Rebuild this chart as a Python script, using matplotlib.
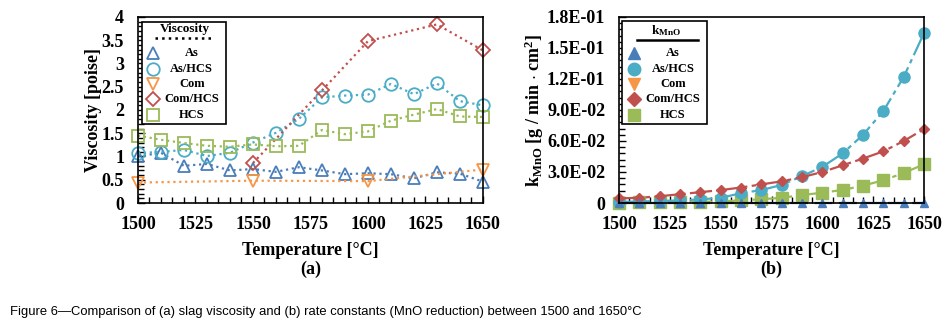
import matplotlib
matplotlib.use("Agg")
import matplotlib.pyplot as plt
from matplotlib.patches import Rectangle
from matplotlib.ticker import MultipleLocator, FuncFormatter

plt.rcParams['font.family'] = ['Liberation Serif', 'DejaVu Serif']
plt.rcParams['font.weight'] = 'bold'
plt.rcParams['mathtext.fontset'] = 'custom'
plt.rcParams['mathtext.rm'] = 'Liberation Serif:bold'
plt.rcParams['mathtext.bf'] = 'Liberation Serif:bold'
plt.rcParams['mathtext.it'] = 'Liberation Serif:bold'

temp = list(range(1500, 1651, 10))
temp_com = [1500, 1550, 1600, 1650]
temp_comhcs = [1550, 1580, 1600, 1630, 1650]
names = ['As', 'As/HCS', 'Com', 'Com/HCS', 'HCS']

# (a) viscosity [poise]
visc_as = [1.0, 1.08, 0.8, 0.84, 0.7, 0.73, 0.67, 0.77, 0.7, 0.62, 0.64, 0.62, 0.53, 0.66, 0.63, 0.46]
visc_ashcs = [1.07, 1.1, 1.14, 1.01, 1.08, 1.3, 1.51, 1.81, 2.27, 2.31, 2.33, 2.56, 2.34, 2.57, 2.19, 2.1]
visc_com = [0.44, 0.48, 0.47, 0.72]
visc_comhcs = [0.86, 2.42, 3.48, 3.84, 3.28]
visc_hcs = [1.45, 1.36, 1.29, 1.23, 1.21, 1.26, 1.22, 1.23, 1.57, 1.48, 1.54, 1.77, 1.9, 2.02, 1.86, 1.85]

# (b) k_MnO [g / min cm2]
k_as = [0.0] * 16
k_ashcs = [0.001, 0.0015, 0.002, 0.0025, 0.0035, 0.005, 0.0095, 0.0125, 0.0175, 0.026,
           0.035, 0.048, 0.066, 0.089, 0.122, 0.1645]
k_comhcs = [0.0045, 0.005, 0.0066, 0.0085, 0.0105, 0.0125, 0.015, 0.018, 0.021, 0.025,
            0.030, 0.0365, 0.043, 0.050, 0.060, 0.0715]
k_hcs = [0.0004, 0.0005, 0.0007, 0.0009, 0.0011, 0.0017, 0.0025, 0.0037, 0.005, 0.0077,
         0.010, 0.0126, 0.0168, 0.022, 0.029, 0.0375]

c_as = '#4a7ebb'
c_ashcs = '#4bacc6'
c_com = '#f79646'
c_comhcs = '#c0504d'
c_hcs = '#9bbb59'
colors = [c_as, c_ashcs, c_com, c_comhcs, c_hcs]
markers = ['^', 'o', 'v', 'D', 's']

fig = plt.figure(figsize=(9.49, 3.34), dpi=100)
ax1 = fig.add_axes([0.1454, 0.3922, 0.3635, 0.557])
ax2 = fig.add_axes([0.6523, 0.3922, 0.3214, 0.557])

# ---- (a)
kw = dict(ls=':', lw=1.6, mfc='none', mew=1.3, ms=9, clip_on=False)
ax1.plot(temp, visc_as, marker='^', color=c_as, **kw)
ax1.plot(temp, visc_ashcs, marker='o', color=c_ashcs, **kw)
ax1.plot(temp_com, visc_com, marker='v', color=c_com, **kw)
ax1.plot(temp_comhcs, visc_comhcs, marker='D', color=c_comhcs, **{**kw, 'ms': 7})
ax1.plot(temp, visc_hcs, marker='s', color=c_hcs, **kw)
ax1.set_xlim(1500, 1650)
ax1.set_ylim(0, 4)
ax1.xaxis.set_major_locator(MultipleLocator(25))
ax1.xaxis.set_minor_locator(MultipleLocator(5))
ax1.yaxis.set_major_locator(MultipleLocator(0.5))
ax1.yaxis.set_minor_locator(MultipleLocator(0.1))
ax1.yaxis.set_major_formatter(FuncFormatter(lambda v, p: '%g' % v))
ax1.set_ylabel('Viscosity [poise]', fontsize=13, fontweight='bold', labelpad=0)
ax1.set_xlabel('Temperature [°C]\n(a)', fontsize=13, fontweight='bold', labelpad=6.5,
               linespacing=1.2)

# ---- (b)
dd = (0, (10, 2, 2, 2))
ax2.plot(temp, k_hcs, ls=dd, lw=1.6, marker='s', ms=8, color=c_hcs, clip_on=False)
ax2.plot(temp, k_ashcs, ls=dd, lw=1.6, marker='o', ms=8, color=c_ashcs, clip_on=False)
ax2.plot(temp, k_comhcs, ls=dd, lw=1.6, marker='D', ms=5.5, color=c_comhcs, clip_on=False)
ax2.plot(temp, k_as, ls=(0, (8, 3)), lw=1.6, marker='^', ms=6, color='#1f3864',
         mfc=c_as, mec=c_as, clip_on=False)
ax2.set_xlim(1500, 1650)
ax2.set_ylim(0, 0.18)
ax2.xaxis.set_major_locator(MultipleLocator(25))
ax2.xaxis.set_minor_locator(MultipleLocator(5))
ax2.yaxis.set_major_locator(MultipleLocator(0.03))
ax2.yaxis.set_minor_locator(MultipleLocator(0.006))
ax2.yaxis.set_major_formatter(FuncFormatter(lambda v, p: '0' if abs(v) < 1e-9 else '%.1E' % v))
ax2.set_ylabel(r'k$_{\mathregular{MnO}}$ [g / min $\cdot$ cm$^{\mathregular{2}}$]',
               fontsize=13, fontweight='bold', labelpad=1)
ax2.set_xlabel('Temperature [°C]\n(b)', fontsize=13, fontweight='bold', labelpad=6.5,
               linespacing=1.2)

for ax in (ax1, ax2):
    ax.tick_params(which='both', direction='in', top=False, right=False, width=1)
    ax.tick_params(which='major', length=5, labelsize=13)
    ax.tick_params(axis='x', pad=9)
    ax.tick_params(axis='y', pad=10)
    ax.tick_params(which='minor', length=4)
    for s in ax.spines.values():
        s.set_linewidth(1.2)


# hand-made legends (markers at left, names centred, underlined title)
def draw_legend(ax, box, title, title_xy, rule, rule_style, mark_x, text_x, filled):
    tr = ax.transAxes
    ax.add_patch(Rectangle((box[0], box[1]), box[2], box[3], transform=tr,
                           fill=True, fc='white', ec='black', lw=1.2, zorder=5))
    ax.text(title_xy[0], title_xy[1], title, transform=tr, ha='center', va='center',
            fontsize=9.5, fontweight='bold', zorder=6)
    ax.plot(rule[0], rule[1], transform=tr, ls=rule_style, color='black', lw=1.8, zorder=6)
    rows = [0.806, 0.720, 0.640, 0.559, 0.473]
    for y, n, c, m in zip(rows, names, colors, markers):
        ms = 7 if m == 'D' else 9
        if filled:
            ax.plot([mark_x], [y], transform=tr, ls='none', marker=m, ms=ms, mfc=c, mec=c,
                    zorder=6, clip_on=False)
        else:
            ax.plot([mark_x], [y], transform=tr, ls='none', marker=m, ms=ms, mfc='none',
                    mec=c, mew=1.3, zorder=6, clip_on=False)
        ax.text(text_x, y, n, transform=tr, ha='center', va='center', fontsize=9,
                fontweight='bold', zorder=6)


draw_legend(ax1, (0.0116, 0.425, 0.243, 0.548), 'Viscosity', (0.136, 0.935),
            ([0.049, 0.22], [0.885, 0.885]), ':', 0.0435, 0.156, False)
draw_legend(ax2, (0.0098, 0.425, 0.279, 0.553), r'k$_{\mathregular{MnO}}$', (0.154, 0.925),
            ([0.059, 0.259], [0.876, 0.876]), '-', 0.049, 0.177, True)

fig.text(0.011, 0.058, 'Figure 6\u2014Comparison of (a) slag viscosity and (b) rate constants '
         '(MnO reduction) between 1500 and 1650°C',
         family=['Liberation Sans Narrow', 'Liberation Sans', 'DejaVu Sans'],
         fontsize=9.4, fontweight='normal')

fig.savefig('out.png', dpi=100)
